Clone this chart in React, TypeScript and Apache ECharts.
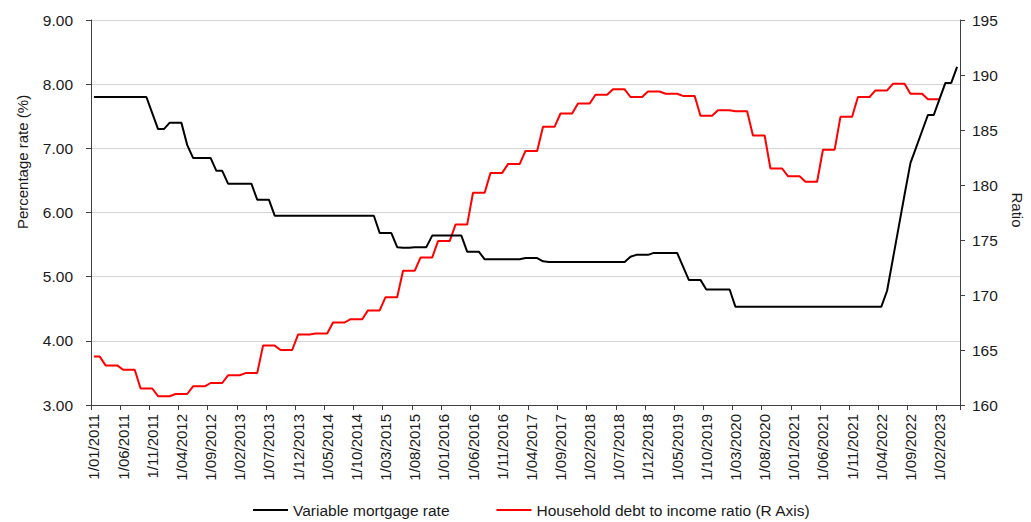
import React, { useEffect, useRef } from "react";
import * as echarts from "echarts";

// Monthly categories, 1/01/2011 to 1/05/2023
const startYear = 2011;
const monthCount = 149;
const categories: string[] = [];
for (let k = 0; k < monthCount; k++) {
  const y = startYear + Math.floor(k / 12);
  const m = (k % 12) + 1;
  categories.push(`1/${m < 10 ? "0" + m : m}/${y}`);
}

const mortgageRate: number[] = [
  7.8, 7.8, 7.8, 7.8, 7.8, 7.8, 7.8, 7.8, 7.8, 7.8,
  7.55, 7.3, 7.3, 7.4, 7.4, 7.4, 7.05, 6.85, 6.85, 6.85,
  6.85, 6.65, 6.65, 6.45, 6.45, 6.45, 6.45, 6.45, 6.2, 6.2,
  6.2, 5.95, 5.95, 5.95, 5.95, 5.95, 5.95, 5.95, 5.95, 5.95,
  5.95, 5.95, 5.95, 5.95, 5.95, 5.95, 5.95, 5.95, 5.95, 5.68,
  5.68, 5.68, 5.46, 5.45, 5.45, 5.46, 5.46, 5.46, 5.64, 5.64,
  5.64, 5.64, 5.64, 5.64, 5.39, 5.39, 5.39, 5.27, 5.27, 5.27,
  5.27, 5.27, 5.27, 5.27, 5.29, 5.29, 5.29, 5.24, 5.23, 5.23,
  5.23, 5.23, 5.23, 5.23, 5.23, 5.23, 5.23, 5.23, 5.23, 5.23,
  5.23, 5.23, 5.31, 5.34, 5.34, 5.34, 5.37, 5.37, 5.37, 5.37,
  5.37, 5.16, 4.95, 4.95, 4.95, 4.8, 4.8, 4.8, 4.8, 4.8,
  4.53, 4.53, 4.53, 4.53, 4.53, 4.53, 4.53, 4.53, 4.53, 4.53,
  4.53, 4.53, 4.53, 4.53, 4.53, 4.53, 4.53, 4.53, 4.53, 4.53,
  4.53, 4.53, 4.53, 4.53, 4.53, 4.53, 4.78, 5.28, 5.78, 6.28,
  6.77, 7.02, 7.27, 7.52, 7.52, 7.77, 8.02, 8.02, 8.27,
];

const debtToIncome: number[] = [
  164.4, 164.4, 163.6, 163.6, 163.6, 163.2, 163.2, 163.2, 161.5, 161.5,
  161.5, 160.8, 160.8, 160.8, 161.0, 161.0, 161.0, 161.7, 161.7, 161.7,
  162.0, 162.0, 162.0, 162.7, 162.7, 162.7, 162.9, 162.9, 162.9, 165.4,
  165.4, 165.4, 165.0, 165.0, 165.0, 166.4, 166.4, 166.4, 166.5, 166.5,
  166.5, 167.5, 167.5, 167.5, 167.8, 167.8, 167.8, 168.6, 168.6, 168.6,
  169.8, 169.8, 169.8, 172.2, 172.2, 172.2, 173.4, 173.4, 173.4, 174.9,
  174.9, 174.9, 176.4, 176.4, 176.4, 179.3, 179.3, 179.3, 181.1, 181.1,
  181.1, 181.9, 181.9, 181.9, 183.1, 183.1, 183.1, 185.3, 185.3, 185.3,
  186.5, 186.5, 186.5, 187.4, 187.4, 187.4, 188.2, 188.2, 188.2, 188.7,
  188.7, 188.7, 188.0, 188.0, 188.0, 188.5, 188.5, 188.5, 188.3, 188.3,
  188.3, 188.1, 188.1, 188.1, 186.3, 186.3, 186.3, 186.8, 186.8, 186.8,
  186.7, 186.7, 186.7, 184.5, 184.5, 184.5, 181.5, 181.5, 181.5, 180.8,
  180.8, 180.8, 180.3, 180.3, 180.3, 183.2, 183.2, 183.2, 186.2, 186.2,
  186.2, 188.0, 188.0, 188.0, 188.6, 188.6, 188.6, 189.2, 189.2, 189.2,
  188.3, 188.3, 188.3, 187.8, 187.8, 187.8,
];

const seriesNames = ["Variable mortgage rate", "Household debt to income ratio (R Axis)"];
const leftTitle = "Percentage rate (%)";
const rightTitle = "Ratio";

const FONT = "'Liberation Sans', Arial, sans-serif";
const TEXT = "#1a1a1a";
const AXIS = "#404040";

export default function App() {
  const ref = useRef<HTMLDivElement>(null);
  useEffect(() => {
    if (!ref.current) return;
    const chart = echarts.init(ref.current, undefined, { renderer: "svg" });
    chart.setOption({
      animation: false,
      backgroundColor: "#ffffff",
      grid: { left: 91, right: 71, top: 20, bottom: 117, containLabel: false },
      legend: {
        data: seriesNames,
        left: 253,
        top: 502,
        padding: 0,
        icon: "rect",
        itemWidth: 35,
        itemHeight: 2,
        itemGap: 47,
        textStyle: { fontFamily: FONT, fontSize: 15.5, color: TEXT },
      },
      graphic: [
        {
          type: "text",
          x: 22,
          y: 162,
          rotation: Math.PI / 2,
          style: {
            text: leftTitle,
            fontFamily: FONT,
            fontSize: 15,
            fill: TEXT,
            align: "center",
            verticalAlign: "middle",
          },
        },
        {
          type: "text",
          x: 1017,
          y: 210,
          rotation: -Math.PI / 2,
          style: {
            text: rightTitle,
            fontFamily: FONT,
            fontSize: 15,
            fill: TEXT,
            align: "center",
            verticalAlign: "middle",
          },
        },
      ],
      xAxis: {
        type: "category",
        data: categories,
        boundaryGap: true,
        axisLine: { show: true, lineStyle: { color: AXIS, width: 1 } },
        axisTick: { show: true, interval: 4, length: 5, lineStyle: { color: AXIS } },
        axisLabel: {
          interval: 4,
          rotate: 90,
          margin: 9,
          fontFamily: FONT,
          fontSize: 15,
          color: TEXT,
        },
        splitLine: { show: false },
      },
      yAxis: [
        {
          type: "value",
          min: 3,
          max: 9,
          interval: 1,
          position: "left",
          axisLine: { show: true, lineStyle: { color: AXIS, width: 1 } },
          axisTick: { show: true, length: 5, lineStyle: { color: AXIS } },
          axisLabel: {
            formatter: (v: number) => v.toFixed(2),
            margin: 18,
            fontFamily: FONT,
            fontSize: 15.5,
            color: TEXT,
          },
          splitLine: { show: true, lineStyle: { color: "#d4d4d4", width: 1 } },
        },
        {
          type: "value",
          min: 160,
          max: 195,
          interval: 5,
          position: "right",
          axisLine: { show: true, lineStyle: { color: AXIS, width: 1 } },
          axisTick: { show: true, length: 5, lineStyle: { color: AXIS } },
          axisLabel: {
            margin: 12,
            fontFamily: FONT,
            fontSize: 15.5,
            color: TEXT,
          },
          splitLine: { show: false },
        },
      ],
      series: [
        {
          name: seriesNames[1],
          type: "line",
          yAxisIndex: 1,
          data: debtToIncome,
          symbol: "none",
          showSymbol: false,
          lineStyle: { color: "#ff0000", width: 2 },
          itemStyle: { color: "#ff0000" },
        },
        {
          name: seriesNames[0],
          type: "line",
          yAxisIndex: 0,
          data: mortgageRate,
          symbol: "none",
          showSymbol: false,
          lineStyle: { color: "#000000", width: 2 },
          itemStyle: { color: "#000000" },
        },
      ],
    });
    return () => chart.dispose();
  }, []);
  return (
    <div
      ref={ref}
      style={{ position: "fixed", left: 0, top: 0, width: 1031, height: 522 }}
    />
  );
}
